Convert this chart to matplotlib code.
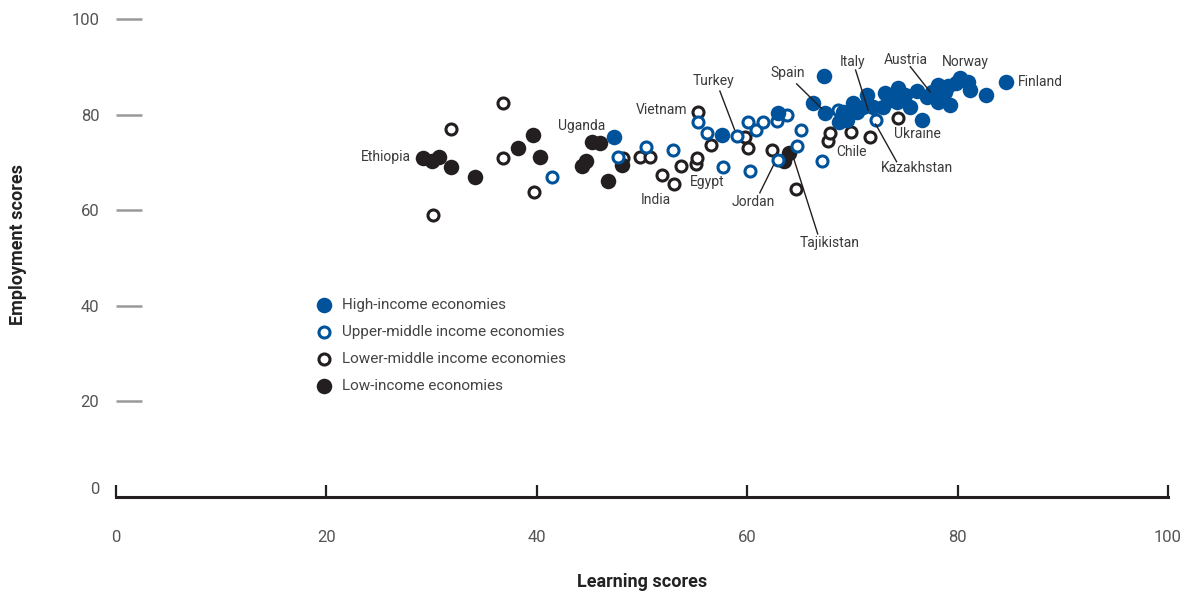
import matplotlib
matplotlib.use('Agg')
import matplotlib.pyplot as plt

plt.rcParams['font.family'] = ['Liberation Sans Narrow', 'Roboto', 'DejaVu Sans']

BLUE = '#00539b'
DARK = '#231f20'

# learning score (x), employment score (y) by income group
high_x = [47.3, 57.6, 62.9, 66.3, 67.3, 67.4, 68.7, 69.1, 69.5, 70.1, 70.4, 71.0, 71.4,
          72.0, 72.9, 73.1, 73.6, 74.2, 74.3, 75.0, 75.5, 76.1, 76.6, 77.1, 77.6, 78.1,
          78.1, 78.8, 79.1, 79.3, 79.8, 80.2, 81.0, 81.2, 82.7, 84.6]
high_y = [75.4, 75.8, 80.4, 82.5, 88.2, 80.4, 78.5, 80.6, 79.0, 82.5, 80.6, 81.7, 84.2,
          81.7, 81.7, 84.6, 83.1, 82.7, 85.7, 84.2, 81.7, 85.0, 79.0, 83.8, 84.8, 86.3,
          82.7, 84.8, 86.1, 82.1, 86.7, 87.7, 86.9, 85.2, 84.2, 86.9]

upper_x = [41.4, 47.7, 50.4, 52.9, 55.3, 56.2, 57.7, 59.0, 60.1, 60.3, 60.8, 61.5, 62.8,
           63.8, 65.1, 64.7, 62.9, 67.1, 68.6, 72.2]
upper_y = [67.0, 71.2, 73.3, 72.7, 78.5, 76.2, 69.1, 75.6, 78.5, 68.3, 76.9, 78.5, 78.7,
           80.0, 76.9, 73.5, 70.6, 70.4, 81.0, 79.0]

lower_x = [30.1, 31.8, 36.8, 36.8, 39.7, 48.2, 49.8, 50.8, 51.9, 53.0, 53.7, 55.1, 55.2,
           55.3, 56.6, 59.8, 60.1, 62.4, 64.6, 67.7, 67.9, 69.9, 71.7, 74.3]
lower_y = [59.1, 77.1, 82.5, 71.0, 63.9, 71.0, 71.2, 71.2, 67.4, 65.5, 69.3, 69.7, 71.0,
           80.6, 73.7, 75.4, 73.1, 72.7, 64.5, 74.6, 76.2, 76.4, 75.4, 79.4]

low_x = [29.2, 30.0, 30.7, 31.8, 34.1, 38.2, 39.6, 40.3, 44.3, 44.7, 45.2, 46.0, 46.8,
         48.1, 64.0, 63.5]
low_y = [71.0, 70.4, 71.2, 69.1, 67.0, 73.1, 75.8, 71.2, 69.3, 70.4, 74.3, 74.1, 66.2,
         69.5, 72.0, 70.4]

# country labels: text, (x, y) of label, alignment, optional leader line
labels = [
    ('Ethiopia', (28.0, 71.2), 'right', None),
    ('Uganda', (44.3, 77.7), 'center', None),
    ('Vietnam', (51.9, 81.0), 'center', None),
    ('Turkey', (56.8, 87.1), 'center', [(57.4, 85.0), (58.8, 76.9)]),
    ('Spain', (63.9, 88.8), 'center', [(64.7, 86.5), (67.1, 81.3)]),
    ('Italy', (70.0, 91.1), 'center', [(70.3, 89.4), (71.5, 81.0)]),
    ('Austria', (75.1, 91.5), 'center', [(75.5, 90.1), (77.4, 84.8)]),
    ('Norway', (80.7, 91.1), 'center', None),
    ('Finland', (85.7, 86.9), 'left', None),
    ('Ukraine', (76.2, 76.0), 'center', None),
    ('Kazakhstan', (76.1, 68.9), 'center', [(74.2, 70.2), (72.2, 78.1)]),
    ('Chile', (69.9, 72.3), 'center', None),
    ('Jordan', (60.6, 61.8), 'center', [(61.2, 63.7), (62.5, 69.5)]),
    ('Tajikistan', (67.8, 53.2), 'center', [(66.7, 55.1), (64.4, 71.0)]),
    ('Egypt', (56.2, 66.0), 'center', None),
    ('India', (51.3, 62.2), 'center', None),
]

fig = plt.figure(figsize=(11.84, 5.94), dpi=100)
ax = fig.add_axes([0.098, 0.1633, 0.8885, 0.804])

ax.scatter(lower_x, lower_y, s=63, facecolor='white', edgecolor=DARK, linewidths=2.2,
           label='Lower-middle income economies', zorder=3, clip_on=False)
ax.scatter(low_x, low_y, s=125, color=DARK, linewidths=0,
           label='Low-income economies', zorder=3, clip_on=False)
ax.scatter(upper_x, upper_y, s=63, facecolor='white', edgecolor=BLUE, linewidths=2.2,
           label='Upper-middle income economies', zorder=4, clip_on=False)
ax.scatter(high_x, high_y, s=125, color=BLUE, linewidths=0,
           label='High-income economies', zorder=4, clip_on=False)

for text, (tx, ty), ha, line in labels:
    ax.text(tx, ty, text, ha=ha, va='center', fontsize=10, color='#3a3a3a', zorder=6)
    if line:
        ax.plot([line[0][0], line[1][0]], [line[0][1], line[1][1]], color='#231f20',
                lw=1.0, zorder=5)

ax.set_xlim(0, 100)
ax.set_ylim(0, 100)
ax.set_xticks([0, 20, 40, 60, 80, 100])
ax.set_yticks([0, 20, 40, 60, 80, 100])

for s in ['top', 'right', 'left']:
    ax.spines[s].set_visible(False)
ax.spines['bottom'].set_linewidth(2.2)
ax.spines['bottom'].set_color(DARK)

ax.tick_params(axis='x', direction='in', length=9, width=1.6, color=DARK, pad=24,
               labelsize=12, labelcolor='#555555')
ax.tick_params(axis='y', direction='in', length=19, width=1.8, color='#999999', pad=12,
               labelsize=12, labelcolor='#555555')
ax.yaxis.get_major_ticks()[0].tick1line.set_visible(False)
ax.yaxis.get_major_ticks()[0].label1.set_va('bottom')

ax.set_xlabel('Learning scores', fontsize=13, fontweight='bold', color='#222222', labelpad=20)
ax.set_ylabel('Employment scores', fontsize=13, fontweight='bold', color='#222222')
ax.yaxis.set_label_coords(-0.085, 0.528)

h, l = ax.get_legend_handles_labels()
order = [3, 2, 0, 1]
ax.legend([h[i] for i in order], [l[i] for i in order], loc='upper left',
          bbox_to_anchor=(0.19, 0.417), frameon=False, fontsize=11, labelspacing=0.85,
          handlelength=1.0, handletextpad=0.7, borderpad=0, borderaxespad=0,
          labelcolor='#444444')

fig.savefig('out.png', dpi=100)
